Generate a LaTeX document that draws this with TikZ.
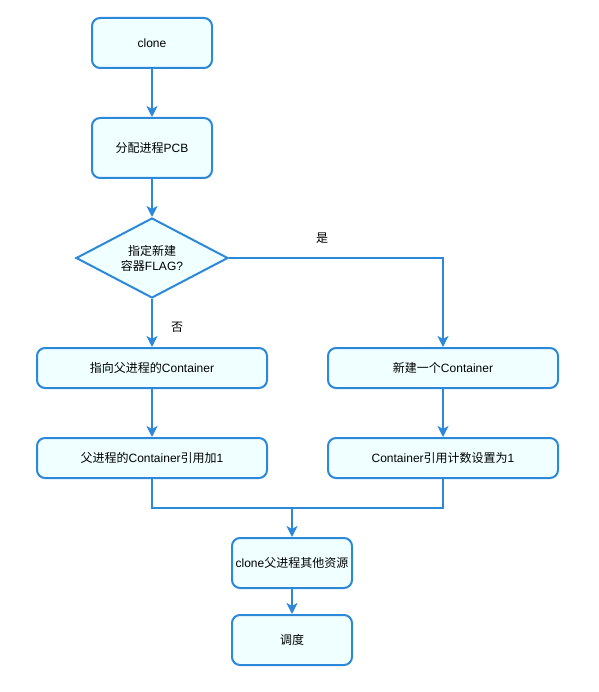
\documentclass[tikz,border=0pt]{standalone}
\usepackage{fontspec}
\setmainfont{Liberation Sans}
\newfontfamily\zh{Noto Sans CJK SC}
\usetikzlibrary{shapes.geometric,arrows.meta}
\definecolor{flowline}{HTML}{2C88D8}
\definecolor{flowfill}{HTML}{F0FFFF}

\tikzset{
	,font = \fontsize{12pt}{15pt}\selectfont
	,stepbox/.style  = {rectangle, rounded corners=8pt, draw=flowline, line width=2pt, fill=flowfill, align=center, inner sep=0pt}
	,askbox/.style   = {diamond, aspect=1.9, draw=flowline, line width=2pt, fill=flowfill, align=center, inner sep=0pt, minimum width=152pt, minimum height=80pt}
	,edgen/.style = {-, line width=2pt, flowline}
	,edger/.style = {-{Stealth[length=11pt,width=11pt,inset=3pt]}, line width=2pt, flowline}
}

\begin{document}
\begin{tikzpicture}[x=1pt,y=-1pt]
				\useasboundingbox (0,0) rectangle (598,692);
				\node[stepbox, minimum width=120pt, minimum height=50pt] at (152.0, 43.0) (clone) {clone};
				\node[stepbox, minimum width=120pt, minimum height=60pt] at (152.0, 148.0) (pcb) {{\zh 分配进程}PCB};
				\node[askbox] at (152.0, 258.0) (flag) {{\zh 指定新建}\\{\zh 容器}FLAG?};
				\node[stepbox, minimum width=230pt, minimum height=40pt] at (152.0, 368.0) (point) {{\zh 指向父进程的}Container};
				\node[stepbox, minimum width=230pt, minimum height=40pt] at (443.0, 368.0) (new) {{\zh 新建一个}Container};
				\node[stepbox, minimum width=230pt, minimum height=40pt] at (152.0, 458.0) (refadd) {{\zh 父进程的}Container{\zh 引用加}1};
				\node[stepbox, minimum width=230pt, minimum height=40pt] at (443.0, 458.0) (refset) {Container{\zh 引用计数设置为}1};
				\node[stepbox, minimum width=120pt, minimum height=50pt] at (292.0, 563.0) (res) {clone{\zh 父进程其他资源}};
				\node[stepbox, minimum width=120pt, minimum height=50pt] at (292.0, 640.0) (sched) {{\zh 调度}};
				\node at (322.0, 238.0) (yes) {\zh 是};
				\node at (177.0, 327.0) (no) {\zh 否};
				\coordinate (merge) at (292.0, 508.0);
				\draw[edger] (clone) -- (pcb);
				\draw[edger] (pcb) -- (flag);
				\draw[edger] (flag) -- (point);
				\draw[edger] (flag.east) -| (new.north);
				\draw[edger] (point) -- (refadd);
				\draw[edger] (new) -- (refset);
				\draw[edgen] (refadd.south) |- (merge);
				\draw[edgen] (refset.south) |- (merge);
				\draw[edger] (merge) -- (res);
				\draw[edger] (res) -- (sched);
			\end{tikzpicture}
\end{document}
